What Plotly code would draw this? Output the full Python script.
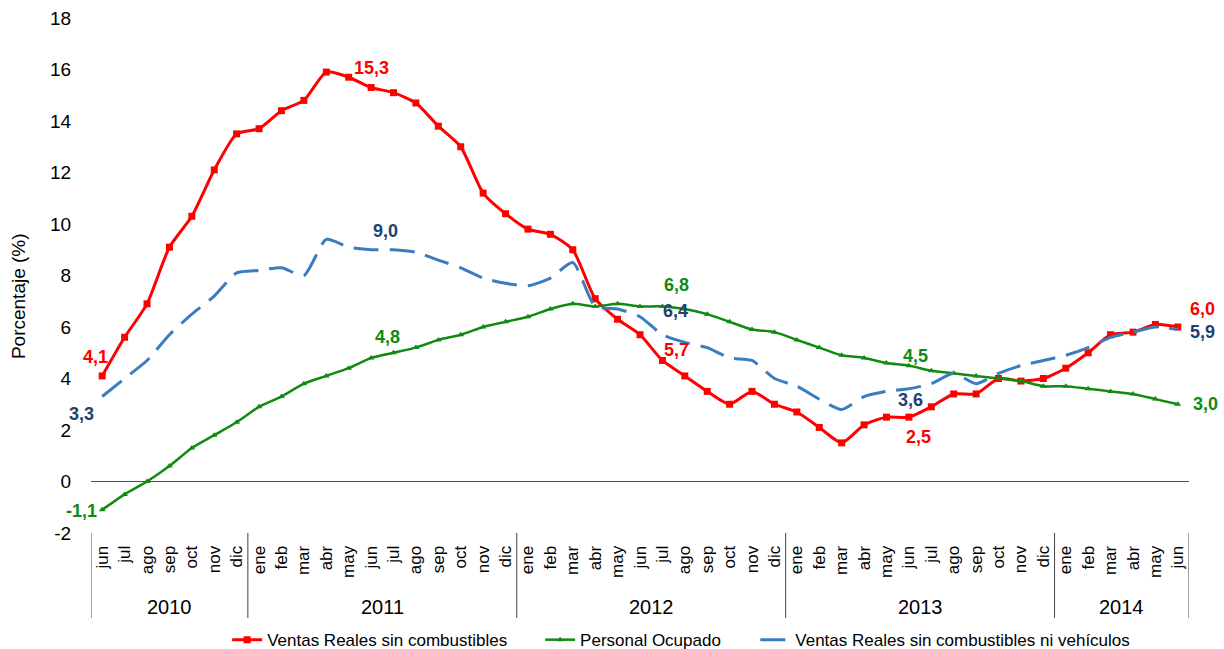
import plotly.graph_objects as go

months = ["jun", "jul", "ago", "sep", "oct", "nov", "dic",
          "ene", "feb", "mar", "abr", "may", "jun", "jul", "ago", "sep", "oct", "nov", "dic",
          "ene", "feb", "mar", "abr", "may", "jun", "jul", "ago", "sep", "oct", "nov", "dic",
          "ene", "feb", "mar", "abr", "may", "jun", "jul", "ago", "sep", "oct", "nov", "dic",
          "ene", "feb", "mar", "abr", "may", "jun"]
years = ["2010", "2011", "2012", "2013", "2014"]
year_counts = [7, 12, 12, 12, 6]
y_ticks = [-2, 0, 2, 4, 6, 8, 10, 12, 14, 16, 18]

ventas = [4.1, 5.6, 6.9, 9.1, 10.3, 12.1, 13.5,
          13.7, 14.4, 14.8, 15.9, 15.7, 15.3, 15.1, 14.7, 13.8, 13.0, 11.2, 10.4,
          9.8, 9.6, 9.0, 7.1, 6.3, 5.7, 4.7, 4.1, 3.5, 3.0, 3.5, 3.0,
          2.7, 2.1, 1.5, 2.2, 2.5, 2.5, 2.9, 3.4, 3.4, 4.0, 3.9, 4.0,
          4.4, 5.0, 5.7, 5.8, 6.1, 6.0]
personal = [-1.1, -0.5, 0.0, 0.6, 1.3, 1.8, 2.3,
            2.9, 3.3, 3.8, 4.1, 4.4, 4.8, 5.0, 5.2, 5.5, 5.7, 6.0, 6.2,
            6.4, 6.7, 6.9, 6.8, 6.9, 6.8, 6.8, 6.7, 6.5, 6.2, 5.9, 5.8,
            5.5, 5.2, 4.9, 4.8, 4.6, 4.5, 4.3, 4.2, 4.1, 4.0, 3.9, 3.7,
            3.7, 3.6, 3.5, 3.4, 3.2, 3.0]
ventas_nv = [3.3, 4.0, 4.7, 5.7, 6.5, 7.2, 8.1,
             8.2, 8.3, 8.0, 9.4, 9.1, 9.0, 9.0, 8.9, 8.6, 8.3, 7.9, 7.7,
             7.6, 7.9, 8.5, 6.8, 6.7, 6.4, 5.7, 5.4, 5.2, 4.8, 4.7, 4.0,
             3.7, 3.2, 2.8, 3.3, 3.5, 3.6, 3.8, 4.2, 3.8, 4.2, 4.5, 4.7,
             4.9, 5.2, 5.6, 5.8, 6.0, 5.9]

names = ["Ventas Reales sin combustibles", "Personal Ocupado",
         "Ventas Reales sin combustibles ni vehículos"]

RED = "#FF0000"
GREEN = "#108A10"
BLUE = "#3A7CC0"
NAVY = "#24406E"
FONT = "Liberation Sans, Arial, sans-serif"

x = list(range(len(months)))

fig = go.Figure()
fig.add_trace(go.Scatter(x=x, y=ventas, name=names[0], mode="lines+markers", legend="legend",
                         line=dict(color=RED, width=3, shape="spline", smoothing=0.6),
                         marker=dict(symbol="square", size=7, color=RED)))
fig.add_trace(go.Scatter(x=x, y=personal, name=names[1], mode="lines+markers", legend="legend2",
                         line=dict(color=GREEN, width=2.5, shape="spline", smoothing=0.6),
                         marker=dict(symbol="triangle-up", size=6, color=GREEN)))
fig.add_trace(go.Scatter(x=x, y=ventas_nv, name=names[2], mode="lines", legend="legend3",
                         line=dict(color=BLUE, width=3, dash="25px,11px", shape="spline", smoothing=0.6)))

# data labels: (series, index, color, xshift, yshift)
labels = [
    (ventas, 0, RED, -7, 19), (ventas, 12, RED, 0, 20), (ventas, 24, RED, 36, -15),
    (ventas, 36, RED, 10, -20), (ventas, 48, RED, 25, 18),
    (personal, 0, GREEN, -21, -1), (personal, 12, GREEN, 16, 21), (personal, 24, GREEN, 36, 21),
    (personal, 36, GREEN, 7, 10), (personal, 48, GREEN, 28, 0),
    (ventas_nv, 0, NAVY, -21, -17), (ventas_nv, 12, NAVY, 14, 19), (ventas_nv, 24, NAVY, 35, 6),
    (ventas_nv, 36, NAVY, 2, -11), (ventas_nv, 48, NAVY, 25, -2),
]
for series, i, col, dx, dy in labels:
    fig.add_annotation(x=i, y=series[i], xref="x", yref="y",
                       text="<b>" + f"{series[i]:.1f}".replace(".", ",") + "</b>",
                       showarrow=False, xanchor="center", yanchor="middle",
                       xshift=dx, yshift=dy, font=dict(family=FONT, size=18, color=col))

# year labels and separators
start = -0.5
bounds = [start]
for yr, n in zip(years, year_counts):
    mid = start + n / 2
    fig.add_annotation(x=mid, y=0, xref="x", yref="paper", text=yr, showarrow=False,
                       yanchor="middle", yshift=-74,
                       font=dict(family=FONT, size=20, color="black"))
    start += n
    bounds.append(start)
for b in bounds:
    fig.add_shape(type="line", xref="x", yref="paper", x0=b, x1=b, y0=0, y1=-0.165,
                  line=dict(color="#404040", width=1))

fig.add_annotation(x=0, y=0.46, xref="paper", yref="paper", text="Porcentaje (%)",
                   textangle=-90, showarrow=False, xanchor="center", yanchor="middle",
                   xshift=-73, font=dict(family=FONT, size=19, color="black"))

legend_style = dict(orientation="h", xanchor="left", y=-0.208, yanchor="middle",
                    font=dict(family=FONT, size=17, color="black"),
                    bgcolor="rgba(0,0,0,0)")

fig.update_layout(
    width=1224, height=649,
    margin=dict(l=91, r=35, t=18, b=116, autoexpand=False),
    paper_bgcolor="white", plot_bgcolor="white",
    font=dict(family=FONT, color="black"),
    showlegend=True,
    legend=dict(x=0.124, **legend_style),
    legend2=dict(x=0.409, **legend_style),
    legend3=dict(x=0.605, **legend_style),
    xaxis=dict(range=[-0.5, len(months) - 0.5], tickmode="array", tickvals=x, ticktext=months,
               tickangle=-90, ticks="outside", ticklen=5, tickcolor="rgba(0,0,0,0)",
               showgrid=False, zeroline=False, showline=False, automargin=False,
               tickfont=dict(family=FONT, size=17, color="black")),
    yaxis=dict(range=[-2, 18], tickmode="array", tickvals=y_ticks,
               ticktext=[str(v) for v in y_ticks],
               ticks="outside", ticklen=15, tickcolor="rgba(0,0,0,0)",
               showgrid=False, zeroline=True, zerolinecolor="#505050", zerolinewidth=1,
               showline=False, automargin=False,
               tickfont=dict(family=FONT, size=19, color="black")),
)

fig.write_html("out.html", config={"displayModeBar": False},
               post_script="document.body.style.margin='0px';")
